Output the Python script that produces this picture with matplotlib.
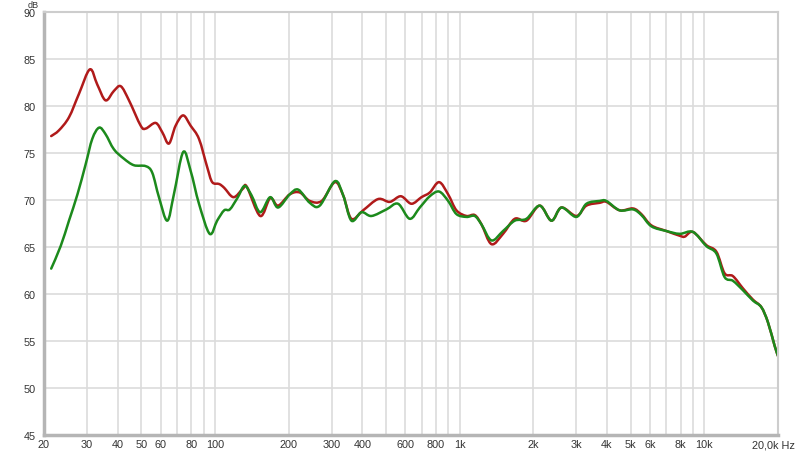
import matplotlib
matplotlib.use("Agg")
import matplotlib.pyplot as plt
import numpy as np
from matplotlib.path import Path
from matplotlib.patches import PathPatch

plt.rcParams['font.family'] = ['Liberation Sans', 'DejaVu Sans']

# Frequency response data (Hz, dB)
red_freq = [21.4, 23.0, 25.3, 27.8, 30.8, 33.0, 35.7, 38.6, 41.2, 44.5, 49.7, 52.1,
            57.2, 60.9, 64.8, 69.0, 74.1, 79.5, 86.0, 92.9, 97.4, 104, 109, 119,
            130, 135, 153, 168, 181, 202, 222, 244, 273, 309, 334, 361, 403, 464,
            518, 575, 635, 698, 755, 824, 897, 970, 1066, 1152, 1228, 1349, 1504,
            1679, 1874, 2124, 2372, 2606, 3000, 3296, 3735, 3978, 4507, 5110, 5528,
            6075, 6996, 7926, 8310, 8986, 10190, 11200, 12100, 13090, 14380, 15800,
            17100, 18190, 19370, 20000]
red_db = [76.8, 77.4, 78.8, 81.3, 83.9, 82.3, 80.6, 81.6, 82.1, 80.6, 77.9, 77.6,
          78.2, 77.2, 76.0, 77.9, 79.0, 77.9, 76.5, 73.5, 71.9, 71.7, 71.3, 70.3,
          71.2, 71.4, 68.3, 70.2, 69.4, 70.6, 70.8, 69.9, 69.9, 71.9, 70.5, 68.0, 68.9, 70.1,
          69.8, 70.4, 69.6, 70.3, 70.8, 71.9, 70.6, 68.9, 68.3, 68.4, 67.4, 65.3, 66.4,
          68.0, 67.8, 69.4, 67.8, 69.2, 68.3, 69.4, 69.7, 69.8, 68.9, 69.1, 68.5,
          67.3, 66.7, 66.2, 66.1, 66.6, 65.2, 64.5, 62.2, 61.9, 60.6, 59.4,
          58.6, 57.0, 54.5, 53.4]

green_freq = [21.4, 23.4, 25.3, 27.4, 29.6, 31.5, 33.6, 35.7, 38.6, 42.4, 46.6, 52.1,
              55.4, 59.0, 63.8, 67.9, 74.1, 79.5, 86.0, 95.1, 102, 109, 115, 124,
              132, 141, 153, 168, 181, 202, 219, 244, 268, 309, 334, 361, 397, 436,
              502, 560, 625, 687, 755, 824, 897, 970, 1066, 1152, 1228, 1349, 1504,
              1679, 1874, 2124, 2372, 2606, 3000, 3296, 3735, 3978, 4507, 5110, 5528,
              6075, 6996, 7926, 8986, 10190, 11200, 12100, 13090, 14380, 15800,
              17100, 18190, 19370, 20000]
green_db = [62.7, 65.1, 67.8, 70.6, 73.8, 76.5, 77.7, 77.0, 75.4, 74.4, 73.7, 73.6,
            72.9, 70.3, 67.8, 70.6, 75.1, 73.1, 69.6, 66.4, 67.8, 68.9, 69.0, 70.3,
            71.5, 70.5, 68.7, 70.3, 69.2, 70.6, 71.1, 69.7, 69.4, 72.0, 70.5, 67.8, 68.7, 68.3,
            69.0, 69.6, 68.0, 69.2, 70.4, 70.9, 69.9, 68.5, 68.2, 68.3, 67.4, 65.7, 66.7,
            67.8, 68.0, 69.4, 67.8, 69.2, 68.2, 69.6, 69.9, 69.9, 68.9, 69.0, 68.4,
            67.2, 66.7, 66.4, 66.6, 65.1, 64.3, 61.8, 61.4, 60.4, 59.3,
            58.6, 57.0, 54.5, 53.4]

grid_freqs = [20, 30, 40, 50, 60, 70, 80, 90, 100, 200, 300, 400, 500, 600, 700, 800,
              900, 1000, 2000, 3000, 4000, 5000, 6000, 7000, 8000, 9000, 10000, 20000]
x_labels = ['20', '30', '40', '50', '60', '', '80', '', '100', '200', '300', '400', '',
            '600', '', '800', '', '1k', '2k', '3k', '4k', '5k', '6k', '', '8k', '', '10k', '']
y_ticks = [45, 50, 55, 60, 65, 70, 75, 80, 85, 90]


def smooth_path(freqs, dbs):
    """Catmull-Rom curve through the data points, as cubic Bezier segments in log-f space."""
    lx = np.log10(np.asarray(freqs, float))
    y = np.asarray(dbs, float)
    n = len(lx)
    verts = [(lx[0], y[0])]
    codes = [Path.MOVETO]
    for i in range(n - 1):
        i0, i2 = max(i - 1, 0), min(i + 2, n - 1)
        c1 = (lx[i] + (lx[i + 1] - lx[i0]) / 6, y[i] + (y[i + 1] - y[i0]) / 6)
        c2 = (lx[i + 1] - (lx[i2] - lx[i]) / 6, y[i + 1] - (y[i2] - y[i]) / 6)
        verts += [c1, c2, (lx[i + 1], y[i + 1])]
        codes += [Path.CURVE4] * 3
    verts = np.array(verts)
    verts[:, 0] = 10 ** verts[:, 0]
    return Path(verts, codes)


W, H = 800, 456
fig = plt.figure(figsize=(W / 100, H / 100), dpi=100)
fig.patch.set_facecolor('white')
ax = fig.add_axes([44 / W, 1 - 436 / H, (778 - 44) / W, (436 - 13) / H])
ax.set_xscale('log')
ax.set_xlim(20, 20000)
ax.set_ylim(45, 90)

ax.set_xticks(grid_freqs)
ax.set_xticklabels(x_labels)
ax.xaxis.set_minor_locator(matplotlib.ticker.NullLocator())
ax.set_yticks(y_ticks)
ax.set_yticklabels([str(v) for v in y_ticks])
ax.tick_params(axis='both', length=0, labelsize=7.8, colors='#333333')
ax.tick_params(axis='x', pad=3)
ax.tick_params(axis='y', pad=6)
ax.grid(True, color='#dcdcdc', linewidth=1.2)
ax.set_axisbelow(True)

for side in ['left', 'bottom']:
    ax.spines[side].set_color('#b5b5b5')
    ax.spines[side].set_linewidth(2.5)
for side in ['top', 'right']:
    ax.spines[side].set_color('#cdcdcd')
    ax.spines[side].set_linewidth(1.5)

for fr, db, col in [(red_freq, red_db, '#b01a1a'), (green_freq, green_db, '#1c8a1c')]:
    patch = PathPatch(smooth_path(fr, db), facecolor='none', edgecolor=col,
                      linewidth=1.8, capstyle='round', joinstyle='round',
                      transform=ax.transData, clip_on=True)
    ax.add_patch(patch)

fig.text(795 / W, 1 - 446 / H, '20,0k Hz', ha='right', va='center', fontsize=7.8,
         color='#333333')
fig.text(33 / W, 1 - 5 / H, 'dB', ha='center', va='center', fontsize=6.5, color='#333333')

fig.savefig('out.png', dpi=100)
